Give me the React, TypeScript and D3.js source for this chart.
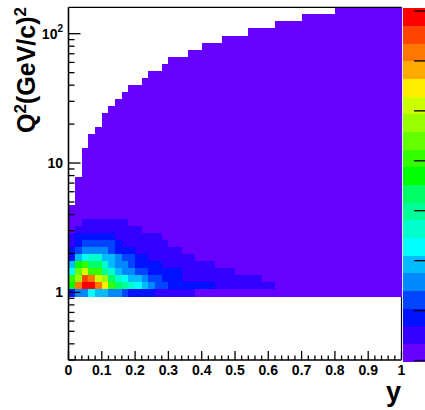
import React from "react";
import * as d3 from "d3";

// histogram binning
const nBinsX = 50;
const nBinsY = 50;
const yRange = [0, 1];
const q2Range = [0.3, 160];

// first filled Q2 bin (same for every column)
const firstBin = 9;

// first empty Q2 bin above the filled region, one per y bin
const topBin = [
  22, 26, 30, 32, 33, 35, 36, 37, 38, 39, 39, 40, 41, 41, 42, 43, 43, 43, 44, 44,
  45, 45, 45, 46, 46, 46, 46, 47, 47, 47, 47, 48, 48, 48, 48, 49, 49, 49, 49, 49,
  50, 50, 50, 50, 50, 50, 50, 50, 50, 50,
];

// bin contents (colour level 1..20) of the low Q2 rows, from firstBin upwards.
// columns not listed hold the lowest level (1)
const lowRows = [
  [3, 5, 5, 7, 6, 6, 5, 5, 4, 3, 3, 3, 3, 2, 2, 2, 2, 2, 2],
  [11, 18, 20, 20, 18, 16, 12, 10, 9, 8, 7, 6, 5, 4, 4, 3, 3, 3, 3, 3, 3, 3, 2, 2, 2, 2, 2, 2, 2, 2, 2],
  [12, 14, 19, 18, 15, 14, 10, 8, 7, 6, 6, 5, 4, 4, 3, 3, 3, 2, 2, 2, 2, 2, 2, 2, 2, 2, 2, 2, 2],
  [7, 13, 15, 12, 12, 9, 8, 6, 5, 5, 4, 4, 3, 3, 3, 3, 3, 2, 2, 2, 2, 2, 2, 2, 2],
  [6, 11, 12, 10, 10, 8, 6, 5, 5, 4, 3, 3, 3, 3, 2, 2, 2, 2, 2, 2, 2, 2],
  [3, 6, 7, 8, 8, 6, 6, 5, 4, 4, 3, 3, 2, 2, 2, 2, 2, 2, 2],
  [3, 4, 5, 5, 5, 5, 4, 3, 3, 3, 2, 2, 2, 2, 2, 2, 2],
  [2, 3, 4, 4, 4, 4, 4, 3, 2, 2, 2, 2, 2, 2, 2],
  [2, 3, 3, 3, 3, 3, 3, 2, 2, 2, 2, 2, 2, 2],
  [1, 2, 2, 2, 2, 2, 2, 2, 2, 2, 2],
  [1, 1, 2, 2, 2, 2, 2, 2, 2],
];

// colour palette, lowest level first
const palette = [
  "#6600ff", "#3300ff", "#0011ff", "#0044ff", "#0088ff", "#00bbff", "#00ffff",
  "#00ffcc", "#00ff99", "#00ff66", "#00ff00", "#33ff00", "#66ff00", "#99ff00",
  "#ccff00", "#ffee00", "#ffaa00", "#ff7700", "#ff4400", "#ff0000",
];

// palette axis range (arbitrary units)
const zAxisRange = [0, 7.06];

const font = "'Liberation Sans', Arial, Helvetica, sans-serif";

export default function App() {
  // chart setup
  const width = 425;
  const height = 410;
  const margin = { top: 7.3, right: 23.5, bottom: 50, left: 68.5 };
  const plotBottom = height - margin.bottom;
  const plotRight = width - margin.right;

  // scales
  const x = d3.scaleLinear().domain(yRange).range([margin.left, plotRight]);
  const y = d3.scaleLog().domain(q2Range).range([plotBottom, margin.top]);
  const color = d3.scaleQuantize<string>().domain([1, 21]).range(palette);

  const xEdge = (i: number) => yRange[0] + ((yRange[1] - yRange[0]) * i) / nBinsX;
  const qEdge = (k: number) => q2Range[0] * Math.pow(q2Range[1] / q2Range[0], k / nBinsY);

  // histogram cells
  const cells: JSX.Element[] = [];
  topBin.forEach((top, i) => {
    const x0 = Math.round(x(xEdge(i)));
    const x1 = Math.round(x(xEdge(i + 1)));
    for (let k = firstBin; k < top; k++) {
      const row = lowRows[k - firstBin];
      const v = row && row[i] !== undefined ? row[i] : 1;
      const y0 = Math.round(y(qEdge(k + 1)));
      const y1 = Math.round(y(qEdge(k)));
      cells.push(
        <rect key={i + "-" + k} x={x0} y={y0} width={x1 - x0} height={y1 - y0} fill={color(v)} />
      );
    }
  });

  // x ticks
  const xMajor = x.ticks(10);
  const xMinor = x.ticks(50).filter((t) => !xMajor.some((m) => Math.abs(m - t) < 1e-9));

  // y ticks
  const yAll = y.ticks();
  const isMajor = (t: number) => Math.abs(Math.log10(t) - Math.round(Math.log10(t))) < 1e-9;

  // palette
  const pal = d3.scaleBand<number>().domain(d3.range(palette.length)).range([361, 8]);
  const zAxis = d3.scaleLinear().domain(zAxisRange).range([360.5, 8]);
  const palX = 403;
  const palW = 24;

  return (
    <svg
      width={width}
      height={height}
      style={{ position: "absolute", left: 0, top: 0, background: "#fff" }}
      fontFamily={font}
      fontWeight="bold"
    >
      <rect x={0} y={0} width={width} height={height} fill="#fff" />
      {/* right frame line sits under the histogram */}
      <line x1={plotRight} x2={plotRight} y1={margin.top} y2={plotBottom} stroke="#000" strokeWidth={1.2} />

      <g shapeRendering="crispEdges">{cells}</g>

      {/* frame */}
      <line x1={margin.left} x2={plotRight} y1={margin.top} y2={margin.top} stroke="#000" strokeWidth={1.2} />
      <line x1={margin.left} x2={margin.left} y1={margin.top} y2={plotBottom} stroke="#000" strokeWidth={1.6} />
      <line x1={margin.left} x2={plotRight} y1={plotBottom} y2={plotBottom} stroke="#000" strokeWidth={1.6} />

      {/* x axis */}
      {xMajor.map((t) => (
        <g key={"xm" + t}>
          <line x1={x(t)} x2={x(t)} y1={plotBottom} y2={plotBottom - 9} stroke="#000" strokeWidth={1.3} />
          <text x={x(t)} y={375} fontSize={14} textAnchor="middle">
            {String(+t.toFixed(1))}
          </text>
        </g>
      ))}
      {xMinor.map((t) => (
        <line key={"xn" + t} x1={x(t)} x2={x(t)} y1={plotBottom} y2={plotBottom - 4.5} stroke="#000" strokeWidth={1.3} />
      ))}

      {/* y axis */}
      {yAll.map((t) => {
        const major = isMajor(t);
        return (
          <line
            key={"y" + t}
            x1={margin.left}
            x2={margin.left + (major ? 12 : 6)}
            y1={y(t)}
            y2={y(t)}
            stroke="#000"
            strokeWidth={1.3}
          />
        );
      })}
      {yAll.filter(isMajor).map((t) => {
        const p = Math.round(Math.log10(t));
        return (
          <text key={"yl" + t} x={63} y={y(t) + 5} fontSize={14} textAnchor="end">
            {p < 2 ? String(t) : (
              <>
                10
                <tspan fontSize={10} dy={-7}>{p}</tspan>
              </>
            )}
          </text>
        );
      })}

      {/* palette */}
      {palette.map((c, i) => (
        <rect key={"p" + i} x={palX} y={pal(i)} width={palW} height={pal.bandwidth() + 0.5} fill={c} shapeRendering="crispEdges" />
      ))}
      {zAxis.ticks(8).map((t) => (
        <line key={"z" + t} x1={palX + palW - 13} x2={palX + palW} y1={zAxis(t)} y2={zAxis(t)} stroke="#000" strokeWidth={1.3} />
      ))}

      {/* axis titles */}
      <text x={401} y={401} fontSize={27} textAnchor="end">
        y
      </text>
      <text transform="translate(35,7) rotate(-90)" fontSize={25} textAnchor="end">
        Q
        <tspan fontSize={17} dy={-9}>2</tspan>
        <tspan dy={9}>(GeV/c)</tspan>
        <tspan fontSize={17} dy={-9}>2</tspan>
      </text>
    </svg>
  );
}
